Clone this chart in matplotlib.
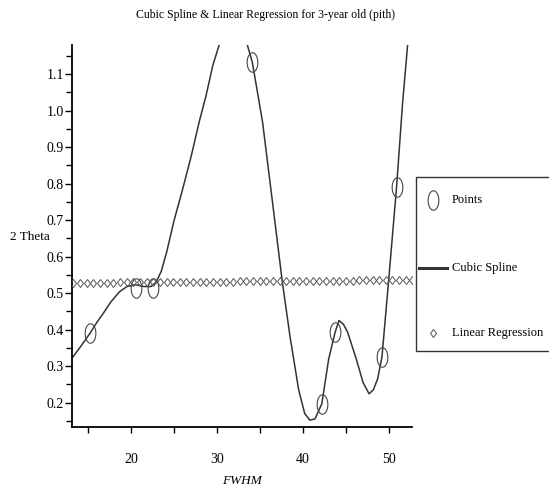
import numpy as np
import matplotlib
matplotlib.use("Agg")
import matplotlib.pyplot as plt
from matplotlib.path import Path
from matplotlib.lines import Line2D
from matplotlib.patches import Rectangle

# data points
point_x = [15.2, 20.5, 22.5, 34.1, 42.2, 43.75, 49.2, 50.9]
point_y = [0.39, 0.515, 0.515, 1.133, 0.197, 0.393, 0.325, 0.79]

# cubic spline curve as drawn
spline_x = [13.1, 13.4, 14.3, 15.2, 16.0, 16.7, 17.6, 18.6, 19.5, 20.5,
            21.5, 22.3, 22.9, 23.5, 24.1, 25.0, 26.0, 27.0, 27.9, 28.7,
            29.5, 30.5, 31.3, 32.2, 33.0, 33.4, 34.1, 35.3, 36.5, 37.6,
            38.5, 39.5, 40.2, 40.8, 41.4, 42.2, 43.0, 43.75, 44.2, 44.7,
            45.2, 46.2, 47.0, 47.7, 48.2, 48.7, 49.2, 50.0, 50.9, 51.6,
            52.3, 52.8]
spline_y = [0.322, 0.331, 0.36, 0.39, 0.42, 0.443, 0.475, 0.503, 0.518, 0.523,
            0.518, 0.518, 0.53, 0.56, 0.61, 0.70, 0.786, 0.877, 0.968, 1.04,
            1.124, 1.20, 1.26, 1.29, 1.24, 1.19, 1.133, 0.968, 0.74, 0.53,
            0.38, 0.235, 0.17, 0.152, 0.155, 0.197, 0.32, 0.393, 0.425, 0.415,
            0.393, 0.32, 0.255, 0.224, 0.235, 0.265, 0.325, 0.54, 0.79, 1.02,
            1.21, 1.33]

x_ticks = [20, 30, 40, 50]
y_ticks = [0.2, 0.3, 0.4, 0.5, 0.6, 0.7, 0.8, 0.9, 1.0, 1.1]

title = "Cubic Spline & Linear Regression for 3-year old (pith)"
legend_labels = ["Points", "Cubic Spline", "Linear Regression"]

serif = "Liberation Serif"
line_color = "#333333"

# linear regression of the points, sampled as a row of diamonds
slope, intercept = np.polyfit(point_x, point_y, 1)
reg_x = np.linspace(13.27, 52.75, 52)
reg_y = intercept + slope * reg_x

# tall ellipse marker like the original circles
t = np.linspace(0, 2 * np.pi, 60)
ellipse = Path(np.column_stack([0.55 * np.cos(t), np.sin(t)]))

fig = plt.figure(figsize=(5.49, 4.90), dpi=100)
ax = fig.add_axes([72 / 549, 1 - 427 / 490, 340 / 549, 382 / 490])

ax.plot(spline_x, spline_y, color=line_color, lw=1.1, zorder=2)
ax.plot(point_x, point_y, linestyle="none", marker=ellipse, markersize=14,
        markerfacecolor="none", markeredgecolor="#444444", markeredgewidth=0.8,
        zorder=3)
ax.plot(reg_x, reg_y, linestyle="none", marker="d", markersize=4.5,
        markerfacecolor="none", markeredgecolor="#555555", markeredgewidth=0.7,
        zorder=3)

ax.set_xlim(13.1, 52.7)
ax.set_ylim(0.133, 1.18)

for side in ["top", "right"]:
    ax.spines[side].set_visible(False)
for side in ["left", "bottom"]:
    ax.spines[side].set_linewidth(1.3)

ax.set_xticks(x_ticks)
ax.set_xticks([15, 25, 35, 45], minor=True)
ax.set_yticks(y_ticks)
ax.set_yticks(np.arange(0.15, 1.2, 0.1), minor=True)
ax.set_yticklabels([f"{v:.1f}" for v in y_ticks])
ax.tick_params(axis="x", which="both", length=4, width=1, pad=15)
ax.tick_params(axis="y", which="major", length=5, width=1, pad=1)
ax.tick_params(axis="y", which="minor", length=4, width=1)
for lab in ax.get_xticklabels() + ax.get_yticklabels():
    lab.set_fontfamily(serif)
    lab.set_fontsize(10)

fig.text(265 / 549, 1 - 15 / 490, title, ha="center", va="center",
         family=serif, fontsize=8.5)
fig.text(10 / 549, 1 - 237 / 490, "2 Theta", ha="left", va="center",
         family=serif, fontsize=9.5)
fig.text(242 / 549, 1 - 481 / 490, "FWHM", ha="center", va="center",
         family=serif, fontsize=9.5, style="italic")

# legend box on the right, running off the edge of the figure
fig.patches.append(Rectangle((416 / 549, 1 - 351 / 490), 140 / 549, 174 / 490,
                             transform=fig.transFigure, facecolor="white",
                             edgecolor="#333333", lw=1.0))
rows = [1 - 200 / 490, 1 - 268 / 490, 1 - 333 / 490]
fig.add_artist(Line2D([433 / 549], [rows[0]], marker=ellipse, markersize=14,
                      markerfacecolor="none", markeredgecolor="#444444",
                      markeredgewidth=0.8, transform=fig.transFigure))
fig.add_artist(Line2D([419 / 549, 447 / 549], [rows[1], rows[1]],
                      color=line_color, lw=2.2, transform=fig.transFigure))
fig.add_artist(Line2D([433 / 549], [rows[2]], marker="d", markersize=4.5,
                      markerfacecolor="none", markeredgecolor="#555555",
                      markeredgewidth=0.7, transform=fig.transFigure))
for y, label in zip(rows, legend_labels):
    fig.text(452 / 549, y, label, ha="left", va="center",
             family=serif, fontsize=9)

fig.savefig("out.png", dpi=100)
